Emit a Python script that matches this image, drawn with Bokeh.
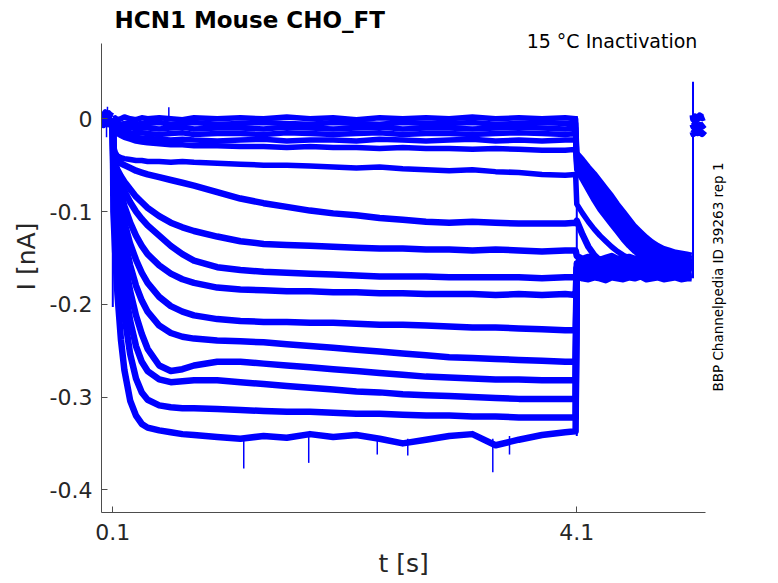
import math
from bokeh.plotting import figure
from bokeh.models import Range1d, FixedTicker, Label, Title
from bokeh.embed import file_html
from bokeh.resources import INLINE

# ---------------- data ----------------
x_ticks = [0.1, 4.1]
x_tick_labels = ["0.1", "4.1"]
y_ticks = [0.0, -0.1, -0.2, -0.3, -0.4]
y_tick_labels = ["0", "-0.1", "-0.2", "-0.3", "-0.4"]

# holding period before the step
t_pre = [0.005, 0.02, 0.035, 0.05, 0.065, 0.08, 0.1]
pre_a = [0.006, 0.004, 0.007, 0.005, 0.006, 0.004, 0.003]
pre_b = [0.000, -0.002, 0.001, -0.001, 0.000, -0.002, 0.000]
pre_c = [-0.006, -0.007, -0.004, -0.006, -0.005, -0.007, -0.005]

# conditioning step (0.1 - 4.1 s) followed by the test pulse (4.1 - 5.1 s)
t_step = [0.100, 0.105, 0.12, 0.14, 0.17, 0.20, 0.25, 0.30, 0.35, 0.40, 0.50,
          0.60, 0.70, 0.80, 1.00, 1.20, 1.40, 1.60, 1.80, 2.00, 2.20, 2.40,
          2.60, 2.80, 3.00, 3.20, 3.40, 3.60, 3.80, 4.00, 4.09]
t_tail = [4.10, 4.15, 4.20, 4.25, 4.30, 4.35, 4.40, 4.45, 4.50, 4.55, 4.60,
          4.65, 4.70, 4.75, 4.80, 4.85, 4.90, 4.95, 5.00, 5.05, 5.09]

trace_01 = [0.001, 0.000, 0.001, -0.001, 0.000, 0.002, 0.000, -0.001, 0.001, 0.000, 0.001,
            0.000, -0.001, 0.001, 0.000, 0.001, 0.000, 0.002, 0.000, 0.001, -0.001, 0.001,
            0.000, 0.001, 0.000, 0.002, 0.000, 0.001, 0.000, 0.001, 0.000,
            -0.037, -0.044, -0.052, -0.059, -0.067, -0.075, -0.083, -0.092, -0.100, -0.108, -0.116,
            -0.122, -0.128, -0.133, -0.137, -0.140, -0.142, -0.144, -0.145, -0.146, -0.147]
trace_02 = [0.000, -0.004, -0.005, -0.004, -0.006, -0.005, -0.004, -0.006, -0.005, -0.005, -0.004,
            -0.006, -0.005, -0.004, -0.006, -0.005, -0.004, -0.005, -0.006, -0.004, -0.005, -0.006,
            -0.004, -0.005, -0.005, -0.004, -0.006, -0.005, -0.004, -0.005, -0.005,
            -0.041, -0.048, -0.057, -0.064, -0.073, -0.081, -0.090, -0.098, -0.105, -0.114, -0.121,
            -0.127, -0.132, -0.137, -0.141, -0.144, -0.146, -0.148, -0.149, -0.150, -0.151]
trace_03 = [0.000, -0.006, -0.007, -0.008, -0.009, -0.010, -0.009, -0.011, -0.010, -0.010, -0.011,
            -0.010, -0.009, -0.011, -0.010, -0.010, -0.011, -0.009, -0.010, -0.011, -0.010, -0.009,
            -0.011, -0.010, -0.010, -0.011, -0.010, -0.009, -0.010, -0.011, -0.010,
            -0.044, -0.053, -0.061, -0.071, -0.079, -0.088, -0.095, -0.104, -0.111, -0.120, -0.127,
            -0.133, -0.138, -0.142, -0.145, -0.148, -0.150, -0.151, -0.152, -0.153, -0.154]
trace_04 = [0.000, -0.008, -0.010, -0.011, -0.013, -0.014, -0.015, -0.016, -0.015, -0.016, -0.017,
            -0.016, -0.015, -0.017, -0.016, -0.016, -0.017, -0.015, -0.016, -0.017, -0.016, -0.015,
            -0.017, -0.016, -0.016, -0.017, -0.016, -0.015, -0.016, -0.017, -0.016,
            -0.048, -0.057, -0.068, -0.076, -0.085, -0.094, -0.103, -0.110, -0.118, -0.125, -0.132,
            -0.138, -0.143, -0.147, -0.150, -0.152, -0.154, -0.155, -0.156, -0.157, -0.157]
trace_05 = [0.000, -0.010, -0.012, -0.014, -0.016, -0.017, -0.019, -0.020, -0.021, -0.021, -0.022,
            -0.023, -0.022, -0.023, -0.024, -0.023, -0.022, -0.024, -0.023, -0.023, -0.024, -0.022,
            -0.023, -0.024, -0.023, -0.022, -0.024, -0.023, -0.024, -0.023, -0.023,
            -0.051, -0.062, -0.071, -0.082, -0.092, -0.100, -0.109, -0.116, -0.124, -0.131, -0.138,
            -0.143, -0.147, -0.151, -0.154, -0.155, -0.157, -0.157, -0.158, -0.158, -0.158]
trace_06 = [0.000, -0.012, -0.014, -0.016, -0.018, -0.020, -0.022, -0.024, -0.025, -0.026, -0.027,
            -0.028, -0.028, -0.029, -0.029, -0.030, -0.030, -0.031, -0.030, -0.031, -0.031, -0.032,
            -0.031, -0.032, -0.032, -0.033, -0.032, -0.033, -0.034, -0.034, -0.033,
            -0.055, -0.066, -0.077, -0.088, -0.098, -0.106, -0.114, -0.122, -0.130, -0.137, -0.143,
            -0.148, -0.152, -0.155, -0.157, -0.158, -0.159, -0.159, -0.160, -0.160, -0.160]
trace_07 = [0.000, -0.028, -0.036, -0.040, -0.042, -0.043, -0.044, -0.045, -0.045, -0.046, -0.046,
            -0.047, -0.046, -0.047, -0.048, -0.049, -0.050, -0.050, -0.051, -0.052, -0.053, -0.052,
            -0.054, -0.055, -0.056, -0.055, -0.057, -0.058, -0.060, -0.061, -0.060,
            -0.092, -0.102, -0.111, -0.119, -0.126, -0.132, -0.138, -0.143, -0.147, -0.150, -0.152,
            -0.153, -0.154, -0.155, -0.155, -0.154, -0.155, -0.156, -0.155, -0.154, -0.155]
trace_08 = [0.000, -0.032, -0.040, -0.044, -0.048, -0.050, -0.053, -0.056, -0.058, -0.060, -0.063,
            -0.066, -0.069, -0.072, -0.079, -0.086, -0.091, -0.095, -0.099, -0.102, -0.104, -0.107,
            -0.109, -0.111, -0.112, -0.111, -0.112, -0.113, -0.113, -0.113, -0.112,
            -0.110, -0.125, -0.138, -0.147, -0.153, -0.157, -0.159, -0.160, -0.161, -0.161, -0.162,
            -0.161, -0.160, -0.161, -0.162, -0.161, -0.160, -0.161, -0.162, -0.161, -0.161]
trace_09 = [0.000, -0.040, -0.048, -0.055, -0.062, -0.068, -0.076, -0.084, -0.090, -0.096, -0.105,
            -0.112, -0.117, -0.121, -0.127, -0.132, -0.135, -0.136, -0.137, -0.138, -0.139, -0.140,
            -0.140, -0.141, -0.141, -0.142, -0.141, -0.142, -0.143, -0.142, -0.142,
            -0.148, -0.151, -0.149, -0.150, -0.152, -0.150, -0.148, -0.151, -0.150, -0.149, -0.151,
            -0.150, -0.152, -0.150, -0.149, -0.151, -0.150, -0.151, -0.149, -0.150, -0.150]
trace_10 = [0.000, -0.045, -0.053, -0.062, -0.070, -0.078, -0.090, -0.100, -0.108, -0.115, -0.126,
            -0.137, -0.146, -0.153, -0.160, -0.163, -0.165, -0.166, -0.167, -0.168, -0.169, -0.170,
            -0.170, -0.170, -0.171, -0.171, -0.171, -0.171, -0.172, -0.171, -0.171,
            -0.166, -0.168, -0.167, -0.169, -0.168, -0.166, -0.169, -0.168, -0.167, -0.169, -0.168,
            -0.167, -0.169, -0.168, -0.166, -0.168, -0.169, -0.167, -0.168, -0.169, -0.168]
trace_11 = [0.000, -0.048, -0.056, -0.066, -0.080, -0.094, -0.112, -0.126, -0.137, -0.146, -0.158,
            -0.167, -0.173, -0.177, -0.182, -0.184, -0.185, -0.186, -0.186, -0.187, -0.187, -0.188,
            -0.188, -0.189, -0.189, -0.189, -0.190, -0.189, -0.190, -0.189, -0.190,
            -0.160, -0.158, -0.157, -0.159, -0.158, -0.156, -0.158, -0.159, -0.157, -0.158, -0.160,
            -0.158, -0.157, -0.159, -0.158, -0.157, -0.159, -0.158, -0.156, -0.158, -0.158]
trace_12 = [0.000, -0.052, -0.062, -0.075, -0.094, -0.112, -0.135, -0.152, -0.166, -0.177, -0.192,
            -0.202, -0.208, -0.212, -0.216, -0.218, -0.219, -0.219, -0.220, -0.220, -0.221, -0.222,
            -0.222, -0.223, -0.224, -0.225, -0.225, -0.226, -0.227, -0.228, -0.228,
            -0.170, -0.172, -0.173, -0.171, -0.172, -0.174, -0.171, -0.172, -0.173, -0.171, -0.172,
            -0.170, -0.173, -0.172, -0.171, -0.173, -0.172, -0.171, -0.173, -0.172, -0.172]
trace_13 = [0.000, -0.056, -0.068, -0.084, -0.108, -0.130, -0.158, -0.180, -0.196, -0.208, -0.223,
            -0.231, -0.235, -0.237, -0.239, -0.240, -0.241, -0.243, -0.245, -0.247, -0.249, -0.251,
            -0.253, -0.255, -0.257, -0.258, -0.259, -0.260, -0.261, -0.262, -0.262,
            -0.162, -0.164, -0.163, -0.161, -0.163, -0.164, -0.162, -0.163, -0.165, -0.163, -0.162,
            -0.164, -0.163, -0.161, -0.163, -0.164, -0.162, -0.163, -0.164, -0.162, -0.163]
trace_14 = [0.000, -0.060, -0.074, -0.094, -0.124, -0.152, -0.186, -0.212, -0.232, -0.248, -0.266,
            -0.272, -0.270, -0.266, -0.262, -0.262, -0.264, -0.266, -0.268, -0.270, -0.272, -0.274,
            -0.276, -0.278, -0.279, -0.280, -0.281, -0.281, -0.282, -0.282, -0.282,
            -0.156, -0.154, -0.153, -0.155, -0.154, -0.152, -0.154, -0.155, -0.153, -0.154, -0.156,
            -0.154, -0.153, -0.155, -0.154, -0.152, -0.154, -0.155, -0.153, -0.154, -0.154]
trace_15 = [0.000, -0.066, -0.084, -0.110, -0.148, -0.180, -0.218, -0.245, -0.262, -0.272, -0.281,
            -0.284, -0.283, -0.282, -0.282, -0.284, -0.286, -0.288, -0.290, -0.292, -0.294, -0.295,
            -0.297, -0.298, -0.299, -0.300, -0.301, -0.302, -0.302, -0.302, -0.302,
            -0.168, -0.170, -0.171, -0.169, -0.170, -0.172, -0.169, -0.170, -0.171, -0.169, -0.170,
            -0.168, -0.171, -0.170, -0.169, -0.171, -0.170, -0.169, -0.171, -0.170, -0.170]
trace_16 = [0.000, -0.075, -0.096, -0.128, -0.174, -0.212, -0.254, -0.280, -0.295, -0.303, -0.309,
            -0.311, -0.312, -0.312, -0.313, -0.314, -0.315, -0.316, -0.316, -0.317, -0.318, -0.318,
            -0.319, -0.320, -0.320, -0.321, -0.321, -0.322, -0.322, -0.322, -0.322,
            -0.161, -0.160, -0.159, -0.161, -0.160, -0.158, -0.160, -0.161, -0.159, -0.160, -0.162,
            -0.160, -0.159, -0.161, -0.160, -0.159, -0.161, -0.160, -0.158, -0.160, -0.160]
trace_17 = [0.000, -0.100, -0.143, -0.189, -0.238, -0.271, -0.304, -0.320, -0.329, -0.333, -0.336,
            -0.338, -0.340, -0.341, -0.343, -0.345, -0.342, -0.344, -0.340, -0.343, -0.341, -0.345,
            -0.350, -0.346, -0.342, -0.340, -0.352, -0.346, -0.341, -0.338, -0.337,
            -0.167, -0.165, -0.164, -0.166, -0.165, -0.163, -0.165, -0.166, -0.164, -0.165, -0.167,
            -0.165, -0.164, -0.166, -0.165, -0.164, -0.166, -0.165, -0.163, -0.165, -0.165]

# return to holding after 5.1 s
t_post = [5.102, 5.106, 5.12, 5.14, 5.16, 5.18, 5.20]
post_a = [0.004, 0.000, 0.002, 0.000, 0.003, 0.001, 0.002]
post_b = [-0.006, -0.008, -0.006, -0.009, -0.007, -0.008, -0.006]
post_c = [-0.014, -0.016, -0.013, -0.015, -0.014, -0.016, -0.013]

# capacitive transients at the voltage steps
trans_t = [0.100, 4.100, 5.102]
trans_top = [0.000, 0.003, 0.040]
trans_bottom = [-0.203, -0.342, -0.172]

# single-sample noise spikes
spike_t = [0.046, 0.054, 0.583, 1.229, 1.789, 2.38, 2.643, 3.376, 3.52]
spike_from = [-0.002, 0.004, 0.001, -0.345, -0.343, -0.345, -0.345, -0.345, -0.342]
spike_to = [-0.020, 0.013, 0.0125, -0.377, -0.371, -0.362, -0.363, -0.381, -0.362]

# ---------------- figure ----------------
FONT = "DejaVu Sans"
BLUE = "#0000ff"
INK = "#262626"
AXIS = "#4d4d4d"

# visible axis box (the plotting frame itself is larger so the texts are not clipped)
X_LO, X_HI = 0.0026, 5.207
Y_LO, Y_HI = -0.4245, 0.0812

p = figure(width=778, height=583, output_backend="svg", toolbar_location=None,
           x_range=Range1d(X_LO, 5.839), y_range=Range1d(Y_LO, 0.1275),
           min_border_left=101, min_border_right=0, min_border_top=0,
           min_border_bottom=71, background_fill_color="white",
           border_fill_color="white")
p.outline_line_color = None
p.xgrid.visible = False
p.ygrid.visible = False

traces = [trace_01, trace_02, trace_03, trace_04, trace_05, trace_06, trace_07,
          trace_08, trace_09, trace_10, trace_11, trace_12, trace_13, trace_14,
          trace_15, trace_16, trace_17]
t_trace = t_step + t_tail
for k, tr in enumerate(traces):
    p.line(t_trace, tr, line_color=BLUE, line_width=5.5 if k < 7 else 6.5,
           line_join="round")
for pr in (pre_a, pre_b, pre_c):
    p.line(t_pre, pr, line_color=BLUE, line_width=6, line_join="round")
for po in (post_a, post_b, post_c):
    p.line(t_post, po, line_color=BLUE, line_width=7, line_join="round")
p.segment(x0=trans_t, y0=trans_top, x1=trans_t, y1=trans_bottom,
          line_color=BLUE, line_width=2)
p.segment(x0=spike_t, y0=spike_from, x1=spike_t, y1=spike_to,
          line_color=BLUE, line_width=1.5)

for ax in (p.xaxis[0], p.yaxis[0]):
    ax.axis_line_color = AXIS
    ax.axis_line_width = 1
    ax.major_tick_line_color = AXIS
    ax.major_tick_in = 6
    ax.major_tick_out = 0
    ax.minor_tick_line_color = None
    ax.major_label_text_font = FONT
    ax.major_label_text_font_size = "22px"
    ax.major_label_text_color = INK
    ax.axis_label_text_font = FONT
    ax.axis_label_text_font_size = "25px"
    ax.axis_label_text_font_style = "normal"
    ax.axis_label_text_color = INK

xa = p.xaxis[0]
xa.bounds = (X_LO, X_HI)
xa.ticker = FixedTicker(ticks=x_ticks)
xa.major_label_overrides = {v: s for v, s in zip(x_ticks, x_tick_labels)}
xa.major_label_standoff = 11

ya = p.yaxis[0]
ya.bounds = (Y_LO, Y_HI)
ya.ticker = FixedTicker(ticks=y_ticks)
ya.major_label_overrides = {v: s for v, s in zip(y_ticks, y_tick_labels)}
ya.axis_label = "I [nA]"
ya.major_label_standoff = 9
ya.axis_label_standoff = 6

# x-axis label, centred under the visible axis box (not under the wider frame)
p.add_layout(Title(text="t [s]", align="left", offset=277, vertical_align="bottom",
                   standoff=8, text_font=FONT, text_font_size="25px",
                   text_font_style="normal", text_color=INK), "below")

p.add_layout(Label(x=0.115, y=0.107, text="HCN1  Mouse  CHO_FT",
                   text_font=FONT, text_font_size="23px", text_font_style="bold",
                   text_color="#000000", text_align="left",
                   text_baseline="alphabetic"))
p.add_layout(Label(x=5.192, y=0.0833, text="15 °C  Inactivation",
                   text_font=FONT, text_font_size="19px", text_color="#000000",
                   text_align="right", text_baseline="alphabetic"))
p.add_layout(Label(x=5.317, y=-0.1706, text="BBP Channelpedia ID 39263 rep 1",
                   text_font=FONT, text_font_size="13.5px", text_color="#000000",
                   angle=math.pi / 2, text_align="center", text_baseline="middle"))

open("out.html", "w").write(file_html(p, INLINE))
